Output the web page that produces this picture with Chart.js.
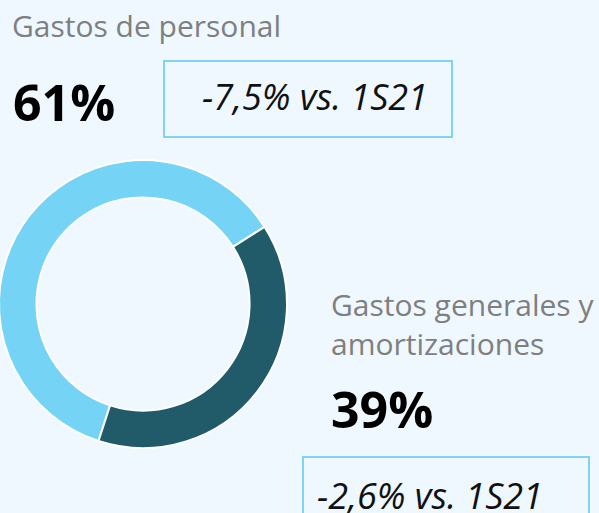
<!DOCTYPE html>
<html>
<head>
<meta charset="utf-8">
<script src="https://cdn.jsdelivr.net/npm/chart.js@4"></script>
<style>
  html, body { margin: 0; padding: 0; }
  body { width: 599px; height: 513px; background: #eef8fe; position: relative; overflow: hidden;
         font-family: "Open Sans", "Noto Sans", sans-serif; }
  #wrap { position: absolute; left: -7px; top: 154px; width: 300px; height: 300px; }
  .lbl { position: absolute; color: #7f7f7f; font-size: 30px; line-height: 30px; white-space: nowrap; }
  .pct { position: absolute; color: #000; font-size: 50px; font-weight: 700; line-height: 50px; }
  .box { position: absolute; border: 2px solid #7fd4f3; box-sizing: border-box; }
  .chg { position: absolute; font-style: italic; font-size: 36px; color: #111; white-space: nowrap; line-height: 36px; }
</style>
</head>
<body>
<div id="wrap"><canvas id="myChart"></canvas></div>

<div class="lbl" id="lbl0" style="left:12px; top:11px;"></div>
<div class="pct" id="pct0" style="left:13px; top:77px;"></div>
<div class="box" style="left:163px; top:60px; width:290px; height:78px;"></div>
<div class="chg" id="chg0" style="left:202px; top:79px;"></div>

<div class="lbl" id="lbl1" style="left:331px; top:285px; line-height:39px; white-space:normal; width:268px;"></div>
<div class="pct" id="pct1" style="left:331px; top:384px;"></div>
<div class="box" style="left:302px; top:456px; width:288px; height:80px;"></div>
<div class="chg" id="chg1" style="left:317px; top:478px;"></div>

<script>
// datos del grafico
var categories = ['Gastos de personal', 'Gastos generales y amortizaciones'];
var values = [61, 39];
var changes = ['-7,5% vs. 1S21', '-2,6% vs. 1S21'];
var colors = ['#75d3f5', '#215b6a'];

for (let i = 0; i < categories.length; i++) {
    document.getElementById('lbl' + i).textContent = categories[i];
    document.getElementById('pct' + i).textContent = values[i] + '%';
    document.getElementById('chg' + i).textContent = changes[i];
}

const ctx = document.getElementById('myChart').getContext('2d');
const myChart = new Chart(ctx, {
    type: 'doughnut',
    data: {
        labels: categories,
        datasets: [{
            data: values,
            backgroundColor: colors,
            borderColor: '#ffffff',
            borderWidth: 2,
            hoverOffset: 0
        }]
    },
    options: {
        responsive: true,
        maintainAspectRatio: false,
        animation: false,
        radius: 144,
        cutout: '74%',
        rotation: 198,
        plugins: {
            legend: { display: false },
            tooltip: { enabled: false }
        }
    }
});
</script>
</body>
</html>
